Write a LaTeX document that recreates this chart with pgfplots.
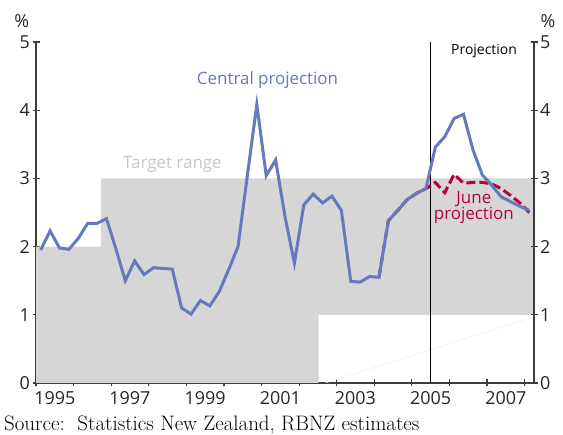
\documentclass[border=0pt]{standalone}
\usepackage{pgfplots}
\pgfplotsset{compat=1.18}
\usepackage{fontspec}
\setmainfont{Open Sans}
\newfontfamily\srcfont{Latin Modern Roman}
\definecolor{cblue}{RGB}{102,120,190}
\definecolor{cred}{RGB}{185,0,60}
\definecolor{tgray}{RGB}{214,214,214}
\definecolor{axgray}{RGB}{60,60,60}

\pgfplotstableread{
x y
1995.125 1.95
1995.375 2.23
1995.625 1.98
1995.875 1.96
1996.125 2.12
1996.375 2.34
1996.625 2.34
1996.875 2.41
1997.125 1.97
1997.375 1.50
1997.625 1.79
1997.875 1.59
1998.125 1.69
1998.375 1.68
1998.625 1.67
1998.875 1.10
1999.125 1.01
1999.375 1.21
1999.625 1.13
1999.875 1.34
2000.125 1.66
2000.375 2.00
2000.625 3.05
2000.875 4.08
2001.125 3.04
2001.375 3.27
2001.625 2.44
2001.875 1.76
2002.125 2.61
2002.375 2.77
2002.625 2.64
2002.875 2.74
2003.125 2.53
2003.375 1.49
2003.625 1.48
2003.875 1.56
2004.125 1.55
2004.375 2.38
2004.625 2.53
2004.875 2.69
2005.125 2.78
2005.375 2.85
2005.625 3.46
2005.875 3.61
2006.125 3.88
2006.375 3.94
2006.625 3.42
2006.875 3.05
2007.125 2.90
2007.375 2.73
2007.625 2.66
2007.875 2.59
2008.125 2.53
}\central

\pgfplotstableread{
x y
2004.125 1.55
2004.375 2.38
2004.625 2.53
2004.875 2.69
2005.125 2.78
2005.375 2.85
2005.625 2.94
2005.875 2.79
2006.125 3.06
2006.375 2.93
2006.625 2.94
2006.875 2.94
2007.125 2.92
2007.375 2.85
2007.625 2.75
2007.875 2.64
2008.125 2.50
}\june

\begin{document}
\begin{tikzpicture}[x=1bp,y=1bp]
\path[use as bounding box] (0,0) rectangle (563,435);
\pgfplotsset{
  common/.style={
    at={(36bp,52bp)}, anchor=south west,
    scale only axis, width=498bp, height=341bp,
    xmin=1995, xmax=2008.25, ymin=0, ymax=5,
    ytick={0,1,2,3,4,5},
    tick align=outside,
    major tick length=7bp,
    minor tick length=7bp,
    tick style={axgray, line width=1.2bp},
    axis line style={axgray, line width=1.3bp},
    ticklabel style={font=\fontsize{18}{20}\selectfont, text=black!85},
    /pgf/number format/assume math mode=true,
    clip=false,
  }
}
\begin{axis}[common,
  axis x line=bottom, axis y line=left,
  xtick={1995.5,1997.5,1999.5,2001.5,2003.5,2005.5,2007.5},
  xticklabels={1995,1997,1999,2001,2003,2005,2007},
  minor xtick={1995,1996,...,2008},
  major x tick style={draw=none},
  xticklabel style={yshift=-1bp},
  yticklabel style={xshift=1bp},
  x axis line style={-}, y axis line style={-},
]
\addplot[fill=tgray, draw=none] coordinates {(1995,0) (1995,2) (1996.73,2) (1996.73,3) (2008.25,3) (2008.25,1) (2002.52,1) (2002.52,0)} -- cycle;
\addplot[black!7, line width=0.5bp] coordinates {(2002.7,0) (2008.25,0.97)};
\addplot[black, line width=0.9bp] coordinates {(2005.5,0) (2005.5,5)};
\addplot[cred, line width=3bp, dash pattern=on 9bp off 4bp] table[x=x,y=y] {\june};
\addplot[cblue, line width=3bp] table[x=x,y=y] {\central};
\node[text=cblue, font=\fontsize{17}{20}\selectfont] at (axis cs:2001.16,4.44) {Central projection};
\node[text=black!22, font=\fontsize{17}{20}\selectfont] at (axis cs:1998.63,3.21) {Target range};
\node[text=black, font=\fontsize{14}{16}\selectfont] at (axis cs:2006.92,4.87) {Projection};
\node[text=cred, font=\fontsize{17}{18}\selectfont, align=center] at (axis cs:2006.65,2.57) {June\\[-2bp]projection};
\node[font=\fontsize{18}{20}\selectfont, text=black!85] at (axis cs:1994.62,5.3) {\%};
\node[font=\fontsize{18}{20}\selectfont, text=black!85] at (axis cs:2008.62,5.3) {\%};
\end{axis}
\begin{axis}[common,
  axis x line=none, axis y line=right,
  xtick=\empty,
  y axis line style={-},
  yticklabel style={xshift=-1bp},
]
\addplot[draw=none] coordinates {(1995,0)};
\end{axis}
\node[anchor=base west, inner sep=0pt, font=\srcfont\fontsize{21}{24}\selectfont] at (4,4) {Source:\ \ Statistics New Zealand, RBNZ estimates};
\end{tikzpicture}
\end{document}
